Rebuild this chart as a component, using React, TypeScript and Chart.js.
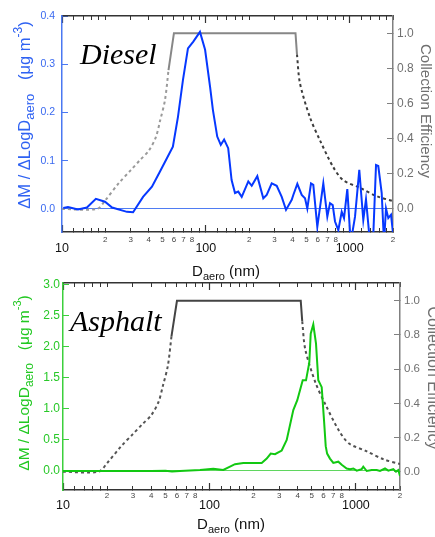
import React, { useEffect, useRef } from 'react';
import { Chart, registerables } from 'chart.js';

Chart.register(...registerables);

const SANS = '"Liberation Sans", Arial, sans-serif';
const SERIF = '"Liberation Serif", "Times New Roman", serif';

// ---- axis ticks ----
const xTickValues = [10, 12, 14, 16, 18, 20, 30, 40, 50, 60, 70, 80, 90, 100, 120, 140, 160, 180, 200, 300, 400, 500, 600, 700, 800, 900, 1000, 1200, 1400, 1600, 1800, 2000];
const xMajorTicks = [10, 100, 1000];
const xMinorLabels = [20, 30, 40, 50, 60, 70, 80, 200, 300, 400, 500, 600, 700, 800, 2000];
const dieselTicks = [0, 0.1, 0.2, 0.3, 0.4];
const asphaltTicks = [0, 0.5, 1.0, 1.5, 2.0, 2.5, 3.0];
const ceTicks = [0, 0.2, 0.4, 0.6, 0.8, 1.0];

// ---- Diesel mass distribution (dM/dlogDaero, ug m-3) ----
const dieselD = [10.2, 11, 12.9, 14.9, 17.2, 19.9, 22.3, 28.3, 31.2, 36.6, 42.2, 47.9, 53.6, 59, 64, 69.3, 75.1, 81.8, 91, 98.8, 107, 112, 120, 127, 134, 143, 151, 159.5, 168, 177.6, 197.3, 208.4, 227.9, 250.8, 264.9, 287, 310.9, 336.9, 360.8, 395.4, 405.5, 432.4, 463.9, 489, 507.4, 538.3, 558.5, 595.5, 655.5, 698.9, 729.7, 762, 790.6, 833.5, 880.2, 913.1, 962.5, 1016, 1089, 1166, 1243, 1298, 1384, 1452, 1524, 1580, 1669, 1732, 1788, 1855, 1937, 2000];
const dieselM = [0.002, 0.004, -0.001, 0.003, 0.021, 0.015, 0.003, -0.006, -0.007, 0.025, 0.046, 0.077, 0.105, 0.129, 0.191, 0.267, 0.333, 0.347, 0.367, 0.33, 0.253, 0.205, 0.15, 0.133, 0.144, 0.126, 0.06, 0.033, 0.036, 0.025, 0.057, 0.048, 0.068, 0.022, 0.029, 0.053, 0.048, 0.025, -0.002, 0.019, 0.029, 0.052, 0.029, 0.022, 0.001, 0.053, 0.05, -0.037, 0.053, -0.016, 0.012, 0.008, -0.026, -0.044, -0.006, -0.019, 0.041, -0.07, -0.016, 0.081, -0.023, 0.02, -0.07, -0.07, 0.091, 0.089, 0.033, -0.07, 0.001, -0.019, -0.012, -0.05];

// ---- Asphalt mass distribution ----
const asphaltD = [10, 20, 40, 50, 55.5, 62.9, 86.2, 106.2, 124.3, 149.4, 170.2, 227.4, 246, 262, 280.3, 311.4, 336.9, 373.7, 397.8, 433.3, 456.3, 480.7, 491.3, 511.7, 534, 553.6, 584, 605.6, 622, 636, 665, 700.7, 758.3, 799.8, 865, 911, 960, 1013, 1095, 1123, 1185, 1282, 1387, 1460, 1580, 1664, 1800, 1878, 1948, 2000];
const asphaltM = [0, 0, 0, 0.002, -0.01, 0, 0.016, 0.037, 0.016, 0.11, 0.13, 0.13, 0.2, 0.28, 0.27, 0.33, 0.5, 0.98, 1.14, 1.46, 1.46, 1.75, 2.21, 2.36, 2.05, 1.46, 1.35, 0.82, 0.4, 0.28, 0.2, 0.13, 0.15, 0.1, 0.04, 0.03, 0.04, 0.005, 0.03, 0.07, 0, 0.016, 0.016, 0, 0.04, 0.005, 0.03, -0.01, 0.016, -0.08];

// ---- Collection efficiency curve ----
const ceLowD = [10, 17.5, 20, 25, 30, 35, 40, 45, 48, 52, 55];
const ceLowE = [0, 0, 0.05, 0.15, 0.22, 0.28, 0.33, 0.41, 0.5, 0.62, 0.79];
const ceMidD = [55, 60, 420, 430];
const ceMidE = [0.79, 1.0, 1.0, 0.88];
const ceHighD = [430, 451, 530, 622, 766, 898, 1180, 1549, 2000];
const ceHighE = [0.88, 0.716, 0.52, 0.39, 0.24, 0.165, 0.12, 0.072, 0.045];

type Part = { t: string; size: number; dy: number };
type RichText = { parts: Part[]; x: number; y: number; rot: number; color: string; family: string; style?: string; align?: 'center' | 'left' };

function drawRich(ctx: CanvasRenderingContext2D, r: RichText) {
  ctx.save();
  ctx.translate(r.x, r.y);
  ctx.rotate(r.rot);
  ctx.fillStyle = r.color;
  ctx.textBaseline = 'alphabetic';
  ctx.textAlign = 'left';
  const fontOf = (p: Part) => `${r.style || ''} ${p.size}px ${r.family}`;
  let total = 0;
  const widths = r.parts.map((p) => {
    ctx.font = fontOf(p);
    const w = ctx.measureText(p.t).width;
    total += w;
    return w;
  });
  let x = r.align === 'left' ? 0 : -total / 2;
  r.parts.forEach((p, i) => {
    ctx.font = fontOf(p);
    ctx.fillText(p.t, x, p.dy);
    x += widths[i];
  });
  ctx.restore();
}

interface Panel {
  height: number;
  plotTop: number;
  plotBottom: number;
  plotLeft: number;
  plotRight: number;
  massD: number[];
  massM: number[];
  massColor: string;
  zeroColor: string;
  axisColor: string;
  labelColor: string;
  yMin: number;
  yMax: number;
  yTicks: number[];
  yFont: number;
  yPad: number;
  y1Min: number;
  y1Max: number;
  y1Font: number;
  y1Pad: number;
  ceSolid: string;
  ceLow: string;
  ceHigh: string;
  xMinorPad: number;
  xMajorLH: number;
  texts: RichText[];
}

const W = 435;

const pts = (d: number[], v: number[]) => d.map((x, i) => ({ x, y: v[i] }));

const noPad = (s: any) => {
  s.paddingTop = 0;
  s.paddingBottom = 0;
  s.paddingLeft = 0;
  s.paddingRight = 0;
};

function buildChart(canvas: HTMLCanvasElement, p: Panel) {
  const textPlugin = {
    id: 'richTexts',
    afterDraw(chart: any) {
      const ctx = chart.ctx as CanvasRenderingContext2D;
      p.texts.forEach((t) => drawRich(ctx, t));
    },
  };
  const dash = [3, 3];
  const xCommon = {
    type: 'logarithmic' as const,
    min: 10,
    max: 2000,
  };
  return new Chart(canvas, {
    type: 'line',
    data: {
      datasets: [
        { data: pts(p.massD, p.massM), xAxisID: 'x', yAxisID: 'y', borderColor: p.massColor, borderWidth: 2, pointRadius: 0, tension: 0, fill: false },
        { data: pts(ceMidD, ceMidE), xAxisID: 'x', yAxisID: 'y1', borderColor: p.ceSolid, borderWidth: 2, pointRadius: 0, tension: 0, fill: false },
        { data: pts(ceHighD, ceHighE), xAxisID: 'x', yAxisID: 'y1', borderColor: p.ceHigh, borderWidth: 2, borderDash: dash, pointRadius: 0, tension: 0.3, fill: false },
        { data: pts(ceLowD, ceLowE), xAxisID: 'x', yAxisID: 'y1', borderColor: p.ceLow, borderWidth: 2, borderDash: dash, pointRadius: 0, tension: 0.3, fill: false },
      ],
    },
    options: {
      animation: false,
      responsive: false,
      devicePixelRatio: 1,
      events: [],
      layout: { padding: 0 },
      plugins: { legend: { display: false }, tooltip: { enabled: false }, title: { display: false } },
      scales: {
        xMajor: {
          ...xCommon,
          position: 'bottom',
          weight: 0,
          afterBuildTicks: (s: any) => { s.ticks = xMajorTicks.map((v) => ({ value: v })); },
          afterFit: (s: any) => { s.height = 0; noPad(s); },
          ticks: { display: false },
          grid: { drawOnChartArea: false, drawTicks: true, tickLength: -7, tickColor: '#333', tickWidth: 1.2 },
          border: { display: false },
        },
        x: {
          ...xCommon,
          position: 'bottom',
          weight: 1,
          afterBuildTicks: (s: any) => { s.ticks = xTickValues.map((v) => ({ value: v })); },
          afterFit: (s: any) => { s.height = p.height - p.plotBottom; noPad(s); },
          ticks: {
            autoSkip: false,
            maxRotation: 0,
            minRotation: 0,
            padding: p.xMinorPad,
            callback: (v: any) => {
              const n = Number(v);
              if (xMajorTicks.includes(n)) return ['', String(n)];
              if (xMinorLabels.includes(n)) return String(n).charAt(0);
              return '';
            },
            font: (c: any) => {
              const n = c.tick ? c.tick.value : 0;
              return xMajorTicks.includes(n)
                ? { family: SANS, size: 12.5, lineHeight: p.xMajorLH }
                : { family: SANS, size: 8, lineHeight: 1.2 };
            },
            color: (c: any) => (c.tick && xMajorTicks.includes(c.tick.value) ? '#111' : '#444'),
          },
          grid: { drawOnChartArea: false, drawTicks: true, tickLength: -4, tickColor: '#333', tickWidth: 1 },
          border: { display: true, color: '#333', width: 1.5 },
        },
        xTop: {
          ...xCommon,
          position: 'top',
          weight: 1,
          afterBuildTicks: (s: any) => { s.ticks = xTickValues.map((v) => ({ value: v })); },
          afterFit: (s: any) => { s.height = p.plotTop; noPad(s); },
          ticks: { display: false },
          grid: { drawOnChartArea: false, drawTicks: true, tickLength: -4, tickColor: '#333', tickWidth: 1 },
          border: { display: true, color: '#333', width: 1.5 },
        },
        xTopMajor: {
          ...xCommon,
          position: 'top',
          weight: 0,
          afterBuildTicks: (s: any) => { s.ticks = xMajorTicks.map((v) => ({ value: v })); },
          afterFit: (s: any) => { s.height = 0; noPad(s); },
          ticks: { display: false },
          grid: { drawOnChartArea: false, drawTicks: true, tickLength: -7, tickColor: '#333', tickWidth: 1.2 },
          border: { display: false },
        },
        y: {
          type: 'linear',
          position: 'left',
          min: p.yMin,
          max: p.yMax,
          afterBuildTicks: (s: any) => { s.ticks = p.yTicks.map((v) => ({ value: v })); },
          afterFit: (s: any) => { s.width = p.plotLeft; noPad(s); },
          ticks: {
            padding: p.yPad,
            color: p.labelColor,
            font: { family: SANS, size: p.yFont },
            callback: (v: any) => Number(v).toFixed(1),
          },
          grid: {
            drawOnChartArea: true,
            drawTicks: true,
            tickLength: -6,
            color: (c: any) => (c.tick && Math.abs(c.tick.value) < 1e-9 ? p.zeroColor : 'rgba(0,0,0,0)'),
            lineWidth: 1,
            tickColor: p.axisColor,
            tickWidth: 1,
          },
          border: { display: true, color: p.axisColor, width: 1.5 },
        },
        y1: {
          type: 'linear',
          position: 'right',
          min: p.y1Min,
          max: p.y1Max,
          afterBuildTicks: (s: any) => { s.ticks = ceTicks.map((v) => ({ value: v })); },
          afterFit: (s: any) => { s.width = W - p.plotRight; noPad(s); },
          ticks: {
            padding: p.y1Pad,
            color: '#707070',
            font: { family: SANS, size: p.y1Font },
            callback: (v: any) => Number(v).toFixed(1),
          },
          grid: { drawOnChartArea: false, drawTicks: true, tickLength: -6, tickColor: '#808080', tickWidth: 1 },
          border: { display: true, color: '#808080', width: 1.5 },
        },
      },
    } as any,
    plugins: [textPlugin],
  });
}

const topPanel: Panel = {
  height: 282,
  plotTop: 16,
  plotBottom: 232,
  plotLeft: 62,
  plotRight: 393,
  massD: dieselD,
  massM: dieselM,
  massColor: '#0638ff',
  zeroColor: '#4f7cf2',
  axisColor: '#4a78f2',
  labelColor: '#3a6af0',
  yMin: -0.0478,
  yMax: 0.4,
  yTicks: dieselTicks,
  yFont: 10.5,
  yPad: 13,
  y1Min: -0.131,
  y1Max: 1.098,
  y1Font: 12,
  y1Pad: 10,
  ceSolid: '#878787',
  ceLow: '#9a9a9a',
  ceHigh: '#3c3c3c',
  xMinorPad: 6.7,
  xMajorLH: 0.762,
  texts: [
    { parts: [{ t: 'Diesel', size: 30, dy: 0 }], x: 80, y: 64, rot: 0, color: '#000', family: SERIF, style: 'italic', align: 'left' },
    {
      parts: [
        { t: 'ΔM / ΔLogD', size: 16.5, dy: 0 },
        { t: 'aero', size: 13, dy: 4 },
        { t: '   (μg m', size: 16.5, dy: 0 },
        { t: '-3', size: 12, dy: -8 },
        { t: ')', size: 16.5, dy: 0 },
      ],
      x: 30, y: 115, rot: -Math.PI / 2, color: '#2f62f2', family: SANS,
    },
    { parts: [{ t: 'Collection Efficiency', size: 15, dy: 0 }], x: 421, y: 111, rot: Math.PI / 2, color: '#707070', family: SANS },
    {
      parts: [
        { t: 'D', size: 15, dy: 0 },
        { t: 'aero', size: 11, dy: 4 },
        { t: ' (nm)', size: 15, dy: 0 },
      ],
      x: 226, y: 276, rot: 0, color: '#111', family: SANS,
    },
  ],
};

const bottomPanel: Panel = {
  height: 267,
  plotTop: 13,
  plotBottom: 220,
  plotLeft: 63,
  plotRight: 400,
  massD: asphaltD,
  massM: asphaltM,
  massColor: '#12c812',
  zeroColor: '#5fd65f',
  axisColor: '#3ccf3c',
  labelColor: '#28c828',
  yMin: -0.306,
  yMax: 3.027,
  yTicks: asphaltTicks,
  yFont: 12,
  yPad: 9,
  y1Min: -0.107,
  y1Max: 1.104,
  y1Font: 11.5,
  y1Pad: 10,
  ceSolid: '#444',
  ceLow: '#555',
  ceHigh: '#505050',
  xMinorPad: 5.2,
  xMajorLH: 0.79,
  texts: [
    { parts: [{ t: 'Asphalt', size: 30, dy: 0 }], x: 70, y: 61, rot: 0, color: '#000', family: SERIF, style: 'italic', align: 'left' },
    {
      parts: [
        { t: 'ΔM / ΔLogD', size: 15.5, dy: 0 },
        { t: 'aero', size: 12, dy: 4 },
        { t: '   (μg m', size: 15.5, dy: 0 },
        { t: '-3', size: 11, dy: -8 },
        { t: ')', size: 15.5, dy: 0 },
      ],
      x: 29, y: 113, rot: -Math.PI / 2, color: '#22c822', family: SANS,
    },
    { parts: [{ t: 'Collection Efficiency', size: 16, dy: 0 }], x: 428, y: 108, rot: Math.PI / 2, color: '#707070', family: SANS },
    {
      parts: [
        { t: 'D', size: 15, dy: 0 },
        { t: 'aero', size: 11, dy: 4 },
        { t: ' (nm)', size: 15, dy: 0 },
      ],
      x: 231, y: 259, rot: 0, color: '#111', family: SANS,
    },
  ],
};

export default function App() {
  const topRef = useRef<HTMLCanvasElement | null>(null);
  const botRef = useRef<HTMLCanvasElement | null>(null);

  useEffect(() => {
    const charts: Chart[] = [];
    if (topRef.current) charts.push(buildChart(topRef.current, topPanel));
    if (botRef.current) charts.push(buildChart(botRef.current, bottomPanel));
    return () => charts.forEach((c) => c.destroy());
  }, []);

  return (
    <div style={{ position: 'absolute', left: 0, top: 0, width: W, height: 537, background: '#fff', overflow: 'hidden' }}>
      <canvas ref={botRef} width={W} height={267} style={{ position: 'absolute', left: 0, top: 270, width: W, height: 267 }} />
      <canvas ref={topRef} width={W} height={282} style={{ position: 'absolute', left: 0, top: 0, width: W, height: 282 }} />
    </div>
  );
}
